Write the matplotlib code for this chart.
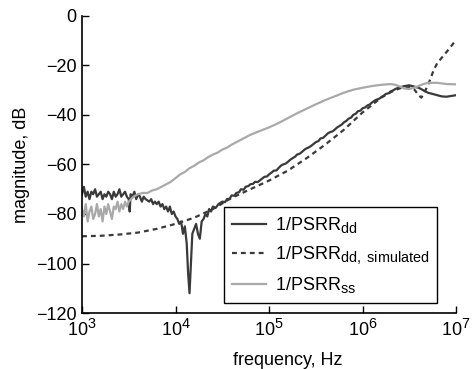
import numpy as np
import matplotlib
matplotlib.use("Agg")
import matplotlib.pyplot as plt
import matplotlib._mathtext as _mt

_mt.SHRINK_FACTOR = 0.8

plt.rcParams['font.family'] = ['Liberation Sans', 'DejaVu Sans']
plt.rcParams['mathtext.fontset'] = 'custom'
plt.rcParams['mathtext.rm'] = 'Liberation Sans'
plt.rcParams['mathtext.it'] = 'Liberation Sans:italic'
plt.rcParams['mathtext.bf'] = 'Liberation Sans:bold'

# log10(frequency) and magnitude (dB)
dd_logf = [3.00, 3.02, 3.04, 3.06, 3.08, 3.10, 3.12, 3.14, 3.16, 3.18, 3.20, 3.22, 3.24, 3.26,
           3.28, 3.30, 3.32, 3.34, 3.36, 3.38, 3.40, 3.42, 3.44, 3.46, 3.48, 3.50, 3.51, 3.52,
           3.54, 3.56, 3.58, 3.60, 3.62, 3.64, 3.66, 3.68, 3.70, 3.72, 3.74, 3.76, 3.78, 3.80,
           3.82, 3.84, 3.86, 3.88, 3.90, 3.92, 3.94, 3.96, 3.98, 4.00, 4.02, 4.04, 4.06, 4.08,
           4.10, 4.12, 4.135, 4.15, 4.165, 4.18, 4.20, 4.22, 4.24, 4.26, 4.28, 4.30, 4.32, 4.34,
           4.36, 4.38, 4.40, 4.43, 4.46, 4.50, 4.53, 4.55, 4.58, 4.60, 4.63, 4.65, 4.68, 4.70,
           4.73, 4.75, 4.78, 4.80, 4.83, 4.85, 4.88, 4.90, 4.93, 4.95, 4.98, 5.00, 5.03, 5.05,
           5.08, 5.10, 5.13, 5.15, 5.18, 5.20, 5.23, 5.25, 5.28, 5.30, 5.33, 5.35, 5.38, 5.40,
           5.43, 5.45, 5.48, 5.50, 5.53, 5.55, 5.58, 5.60, 5.63, 5.65, 5.68, 5.70, 5.73, 5.75,
           5.78, 5.80, 5.83, 5.85, 5.88, 5.90, 5.93, 5.95, 5.98, 6.00, 6.03, 6.05, 6.08, 6.10,
           6.13, 6.15, 6.18, 6.20, 6.23, 6.25, 6.28, 6.30, 6.33, 6.35, 6.40, 6.45, 6.50, 6.55,
           6.60, 6.65, 6.70, 6.75, 6.80, 6.85, 6.90, 6.95, 7.00]
dd_db = [-72, -69, -73, -71, -74, -71, -72, -70, -73, -72, -71, -74, -72, -73,
         -71, -72, -74, -71, -73, -72, -70, -73, -72, -71, -73, -74, -79, -72,
         -73, -71, -74, -72, -73, -75, -73, -74, -74.5, -75, -74, -76, -75, -76,
         -75, -77, -76, -78, -77, -79, -77, -80, -79, -81, -82, -84, -83, -88,
         -85, -92, -104, -112, -100, -88, -86, -84, -88, -90, -83, -82, -80, -81,
         -78, -79, -77, -77.5, -76, -75, -75.2, -74, -73.8, -72.5, -72.6, -71.5, -71.2, -70,
         -70.2, -69, -68.7, -68, -67.8, -67, -67.1, -66.5, -65.6, -65, -64.8, -64, -63.2, -62.5,
         -62.4, -61.5, -60.4, -60, -59.6, -59, -58.0, -57.5, -56.8, -56, -55.6, -55, -54.0, -53.5,
         -53.0, -52.5, -51.6, -51, -50.5, -49.5, -49.2, -48.5, -47.4, -47, -46.6, -46, -45.0, -44.5,
         -43.8, -43, -42.3, -41.5, -41.0, -40, -39.4, -38.5, -38.2, -37.3, -36.9, -36.2, -35.7, -35,
         -34.2, -33.8, -33.4, -32.8, -32.1, -31.5, -31.2, -30.5, -30.0, -29.5, -28.8, -28.3, -28, -28.5,
         -29, -30, -31, -31.5, -32, -32.5, -32.6, -32.3, -32]

sim_logf = [3.0, 3.2, 3.4, 3.6, 3.8, 4.0, 4.2, 4.4, 4.6, 4.8, 5.0, 5.2, 5.4, 5.6, 5.8,
            6.0, 6.1, 6.2, 6.3, 6.4, 6.5, 6.55, 6.6, 6.63, 6.66, 6.7, 6.76, 6.8, 6.9, 7.0]
sim_db = [-89, -88.8, -88.3, -87.5, -86, -84, -81.5, -78, -73.5, -70, -66.5, -62.5, -57.5,
          -52, -46, -39, -36, -33, -30.8, -29.2, -28.7, -29.5, -32, -33, -31, -28, -22, -19,
          -14.5, -9.7]

ss_logf = [3.00, 3.02, 3.04, 3.06, 3.08, 3.10, 3.12, 3.14, 3.16, 3.18, 3.20, 3.22, 3.24, 3.26,
           3.28, 3.30, 3.32, 3.34, 3.36, 3.38, 3.40, 3.42, 3.44, 3.46, 3.48, 3.50, 3.55, 3.60,
           3.65, 3.70, 3.75, 3.80, 3.85, 3.90, 3.95, 4.00, 4.05, 4.10, 4.15, 4.20, 4.25, 4.30,
           4.35, 4.40, 4.45, 4.50, 4.55, 4.60, 4.65, 4.70, 4.80, 4.90, 5.00, 5.10, 5.20, 5.30,
           5.40, 5.50, 5.60, 5.70, 5.80, 5.90, 6.00, 6.10, 6.20, 6.30, 6.35, 6.40, 6.45, 6.50,
           6.55, 6.60, 6.65, 6.70, 6.80, 6.90, 7.00]
ss_db = [-78, -81, -76, -83, -79, -77, -82, -80, -76, -81, -78, -83, -77, -80,
         -76, -79, -82, -77, -78, -75, -79, -76, -78, -75, -77, -75, -73, -72,
         -71.5, -71.5, -70.5, -70, -69, -68, -67, -65.5, -64, -63, -61.5, -60.5, -59.2, -58.3,
         -57, -56, -55.2, -54, -53.2, -52, -51, -50, -48, -46.5, -45, -43.3, -41.3, -39.3,
         -37.5, -35.7, -34, -32.5, -31, -29.8, -29, -28.3, -27.8, -27.5, -27.8, -28.5, -29.3, -29.5,
         -29, -28.3, -27.5, -27, -27, -27.5, -27.6]

labels = [r'1/PSRR$_\mathregular{dd}$',
          r'1/PSRR$_\mathregular{dd,\ simulated}$',
          r'1/PSRR$_\mathregular{ss}$']
xticks = [1e3, 1e4, 1e5, 1e6, 1e7]
xticklabels = [r'10$^\mathregular{3}$', r'10$^\mathregular{4}$', r'10$^\mathregular{5}$',
               r'10$^\mathregular{6}$', r'10$^\mathregular{7}$']
yticks = [-120, -100, -80, -60, -40, -20, 0]

fig = plt.figure(figsize=(4.73, 3.69), dpi=100)
ax = fig.add_axes([82/473, 1-313/369, (456-82)/473, (313-16)/369])

dark = '#3a3a3a'
gray = '#a9a9a9'
ax.plot(10**np.array(dd_logf), dd_db, color=dark, lw=1.6, label=labels[0])
ax.plot(10**np.array(sim_logf), sim_db, color=dark, lw=1.6, dashes=(2.2, 1.8), label=labels[1])
ax.plot(10**np.array(ss_logf), ss_db, color=gray, lw=1.6, label=labels[2])

ax.set_xscale('log')
ax.set_xlim(1e3, 1e7)
ax.set_ylim(-120, 0)
ax.set_xticks(xticks)
ax.set_xticklabels(xticklabels)
ax.xaxis.set_minor_locator(matplotlib.ticker.NullLocator())
ax.set_yticks(yticks)
ax.spines['top'].set_visible(False)
ax.spines['right'].set_visible(False)
for s in ['left', 'bottom']:
    ax.spines[s].set_linewidth(1.2)
ax.tick_params(direction='in', length=5, width=1.0, labelsize=13, pad=4)

ax.set_xlabel('frequency, Hz', fontsize=13)
ax.set_ylabel('magnitude, dB', fontsize=13)
ax.xaxis.set_label_coords((288-82)/374, -0.13)

leg = ax.legend(loc='lower left', bbox_to_anchor=((224-82)/374, (313-303)/297),
                borderaxespad=0, fontsize=13, frameon=True, fancybox=False,
                handlelength=1.9, handletextpad=0.45, borderpad=0.45, labelspacing=0.5)
leg.get_frame().set_edgecolor('black')
leg.get_frame().set_linewidth(1.0)
leg.get_frame().set_alpha(1)

fig.savefig('out.png', dpi=100)
